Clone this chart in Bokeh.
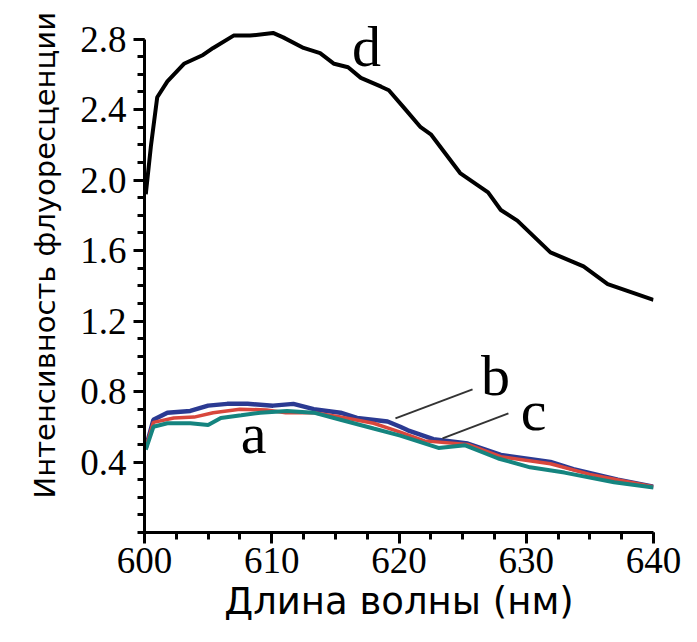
from bokeh.plotting import figure
from bokeh.models import Range1d, FixedTicker, PrintfTickFormatter, Label, Title
from bokeh.embed import file_html
from bokeh.resources import INLINE

# ---- data ----
x_ticks = [600, 610, 620, 630, 640]
y_ticks = [0.4, 0.8, 1.2, 1.6, 2.0, 2.4, 2.8]

d_nm = [600.1, 600.5, 601.0, 601.8, 603.1, 604.6, 605.4, 607.0, 608.3, 610.1, 610.9,
        612.5, 613.8, 614.9, 616.0, 617.0, 618.6, 619.2, 620.4, 621.7, 622.5, 624.8,
        627.0, 628.0, 629.3, 631.9, 634.5, 636.4, 638.4, 640.0]
d_val = [1.92, 2.19, 2.47, 2.56, 2.66, 2.71, 2.75, 2.82, 2.82, 2.835, 2.81,
         2.75, 2.72, 2.66, 2.64, 2.58, 2.53, 2.51, 2.41, 2.30, 2.26, 2.04,
         1.93, 1.83, 1.77, 1.59, 1.51, 1.41, 1.36, 1.32]

b_nm = [600.1, 600.7, 601.8, 603.6, 605.0, 606.5, 608.1, 610.1, 611.7, 613.3, 615.4,
        616.7, 619.1, 620.1, 620.7, 622.7, 625.4, 628.0, 631.9, 633.7, 637.2, 640.0]
b_val = [0.48, 0.64, 0.68, 0.69, 0.72, 0.73, 0.73, 0.72, 0.73, 0.70, 0.68,
         0.65, 0.63, 0.60, 0.58, 0.53, 0.505, 0.44, 0.40, 0.36, 0.30, 0.26]

c_nm = [600.1, 600.7, 602.3, 603.9, 605.4, 607.5, 609.6, 611.1, 613.3, 615.4,
        618.0, 620.1, 622.0, 625.4, 628.0, 631.9, 635.0, 640.0]
c_val = [0.48, 0.625, 0.65, 0.655, 0.68, 0.70, 0.695, 0.68, 0.68, 0.655,
         0.62, 0.57, 0.52, 0.50, 0.43, 0.39, 0.33, 0.26]

a_nm = [600.1, 600.7, 601.8, 603.6, 605.0, 606.0, 607.6, 609.1, 611.2, 613.3, 615.4,
        618.0, 620.1, 623.1, 625.2, 627.8, 630.3, 633.0, 636.9, 640.0]
a_val = [0.47, 0.60, 0.62, 0.62, 0.61, 0.65, 0.665, 0.68, 0.69, 0.68, 0.64,
         0.59, 0.55, 0.48, 0.495, 0.42, 0.37, 0.34, 0.285, 0.255]

series_names = ["a", "b", "c", "d"]
x_title = "Длина волны (нм)"
y_title = "Интенсивность флуоресценции"

# ---- figure ----
p = figure(width=681, height=641, output_backend="svg", toolbar_location=None,
           x_range=Range1d(600, 640), y_range=Range1d(0, 2.9),
           min_border_left=144, min_border_right=28, min_border_top=21,
           min_border_bottom=109)
p.outline_line_color = None
p.grid.grid_line_color = None
p.background_fill_color = "white"
p.border_fill_color = "white"

# curves
p.line(b_nm, b_val, line_color="#2b3a92", line_width=4.5)
p.line(c_nm, c_val, line_color="#d8473c", line_width=3.5)
p.line(a_nm, a_val, line_color="#15847f", line_width=4)
p.line(d_nm, d_val, line_color="black", line_width=4)

# pointer lines for b and c
p.line([619.72, 625.78], [0.648, 0.8125], line_color="#333333", line_width=2)
p.line([623.42, 628.6], [0.534, 0.676], line_color="#333333", line_width=2)

serif = "Liberation Serif"
lift = 0.114
for name, x, y in [("d", 617.45, 2.642), ("a", 608.57, 0.449),
                   ("b", 627.58, 0.778), ("c", 630.57, 0.58)]:
    p.add_layout(Label(x=x, y=y + lift, text=name, text_font=serif, text_font_size="58px",
                       text_align="center", text_baseline="alphabetic", text_color="black"))

# axes
for ax in (p.xaxis, p.yaxis):
    ax.axis_line_width = 3
    ax.axis_line_color = "black"
    ax.major_tick_line_width = 3
    ax.minor_tick_line_width = 3
    ax.major_tick_line_color = "black"
    ax.minor_tick_line_color = "black"
    ax.major_tick_in = 0
    ax.minor_tick_in = 0
    ax.major_tick_out = 11
    ax.minor_tick_out = 7
    ax.major_label_text_font = serif
    ax.major_label_text_font_size = "37px"
    ax.major_label_text_color = "black"

p.xaxis.ticker = FixedTicker(ticks=x_ticks,
                             minor_ticks=[600 + 2.5 * i for i in range(17)])
p.yaxis.ticker = FixedTicker(ticks=y_ticks,
                             minor_ticks=[round(0.1 * i, 1) for i in range(29)])
p.yaxis.formatter = PrintfTickFormatter(format="%.1f")
p.yaxis.bounds = (0, 2.8)
p.xaxis.bounds = (600, 640)
p.xaxis.major_label_standoff = 4
p.yaxis.major_label_standoff = 7

p.xaxis.axis_label = x_title
p.xaxis.axis_label_text_font = "DejaVu Sans"
p.xaxis.axis_label_text_font_size = "37px"
p.xaxis.axis_label_text_font_style = "normal"
p.xaxis.axis_label_text_color = "black"
p.xaxis.axis_label_standoff = 4

p.add_layout(Title(text=y_title, text_font="DejaVu Sans", text_font_size="29px",
                   text_font_style="normal", text_color="black", align="left",
                   offset=34, standoff=32), "left")

open("out.html", "w").write(file_html(p, INLINE))
